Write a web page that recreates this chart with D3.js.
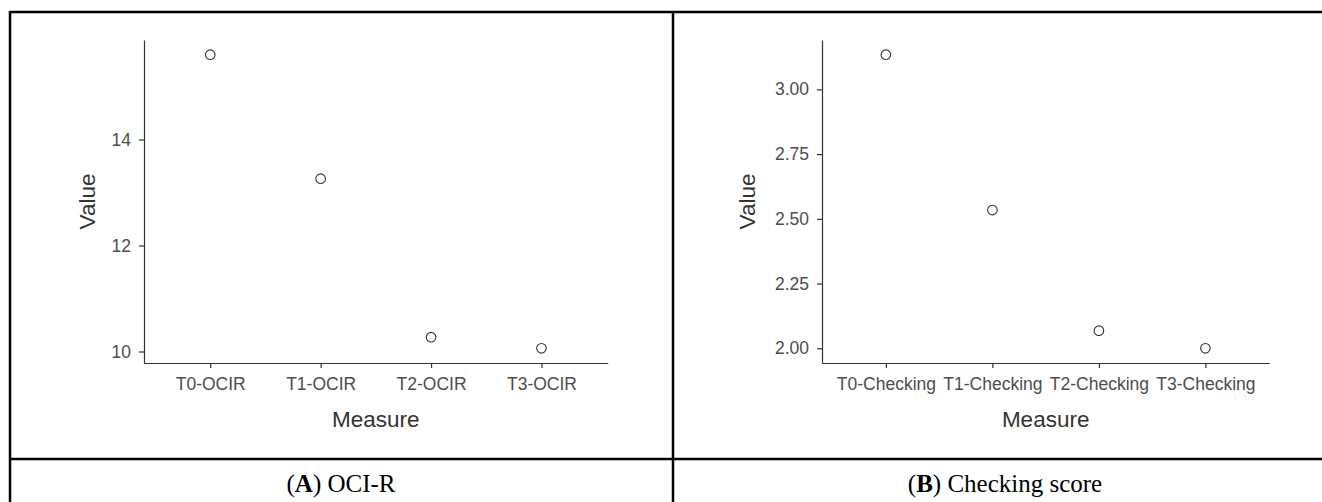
<!DOCTYPE html>
<html>
<head>
<meta charset="utf-8">
<script src="https://cdn.jsdelivr.net/npm/d3@7.9.0/dist/d3.min.js"></script>
<style>
  html, body { margin: 0; padding: 0; background: #fff; }
  svg { display: block; }
  .tick text { font-family: "Liberation Sans", Arial, sans-serif; fill: #4d4d4d; }
  .caption { font-family: "Liberation Serif", "Times New Roman", serif; fill: #000; }
</style>
</head>
<body>
<svg id="chart" width="1322" height="502"></svg>
<script>
// panel A: OCI-R
const categoriesA = ['T0-OCIR', 'T1-OCIR', 'T2-OCIR', 'T3-OCIR'];
const valuesA = [15.60, 13.26, 10.27, 10.06];
const ticksA = [10, 12, 14];

// panel B: checking score
const categoriesB = ['T0-Checking', 'T1-Checking', 'T2-Checking', 'T3-Checking'];
const valuesB = [3.134, 2.534, 2.068, 2.00];
const ticksB = [2.00, 2.25, 2.50, 2.75, 3.00];

const svg = d3.select('#chart');

// table lines round the two figures
const border = svg.append('g').attr('stroke', '#000').attr('stroke-width', 2.5).attr('fill', 'none');
border.append('line').attr('x1', 10).attr('x2', 1322).attr('y1', 12).attr('y2', 12);
border.append('line').attr('x1', 10).attr('x2', 10).attr('y1', 11).attr('y2', 502);
border.append('line').attr('x1', 673).attr('x2', 673).attr('y1', 11).attr('y2', 502);
border.append('line').attr('x1', 10).attr('x2', 1322).attr('y1', 459).attr('y2', 459);

function drawPanel(cats, vals, ticks, fmt, left, right, valueX) {
  const top = 40, bottom = 363;
  const g = svg.append('g');

  let lo = d3.min(vals), hi = d3.max(vals);
  let pad = (hi - lo) * 0.05;

  let x = d3.scalePoint().domain(cats).range([left, right]).padding(0.6);
  let y = d3.scaleLinear().domain([lo - pad, hi + pad]).range([bottom, top]);

  let yAxis = g.append('g')
      .attr('transform', `translate(${left},0)`)
      .call(d3.axisLeft(y).tickValues(ticks).tickFormat(fmt).tickSize(5).tickSizeOuter(0).tickPadding(8));
  let xAxis = g.append('g')
      .attr('transform', `translate(0,${bottom})`)
      .call(d3.axisBottom(x).tickSize(5).tickSizeOuter(0).tickPadding(10));

  [yAxis, xAxis].forEach(a => {
    a.select('.domain').attr('stroke', '#333').attr('stroke-width', 1.2);
    a.selectAll('.tick line').attr('stroke', '#333').attr('stroke-width', 1.2);
    a.selectAll('.tick text').style('font-size', '17.5px');
  });

  g.selectAll('circle.pt')
    .data(vals)
    .join('circle')
      .attr('class', 'pt')
      .attr('cx', (d, i) => x(cats[i]))
      .attr('cy', d => y(d))
      .attr('r', 4.8)
      .attr('fill', 'none')
      .attr('stroke', '#333')
      .attr('stroke-width', 1.1);

  g.append('text')
      .attr('transform', `translate(${valueX},${(top + bottom) / 2}) rotate(-90)`)
      .attr('text-anchor', 'middle')
      .attr('dy', '0.35em')
      .style('font-family', '"Liberation Sans", Arial, sans-serif')
      .style('font-size', '22.5px')
      .attr('fill', '#333')
      .text('Value');

  g.append('text')
      .attr('x', (left + right) / 2)
      .attr('y', 427)
      .attr('text-anchor', 'middle')
      .style('font-family', '"Liberation Sans", Arial, sans-serif')
      .style('font-size', '22.5px')
      .attr('fill', '#333')
      .text('Measure');
}

drawPanel(categoriesA, valuesA, ticksA, d3.format('d'), 144, 607.7, 87);
drawPanel(categoriesB, valuesB, ticksB, d3.format('.2f'), 822, 1269.3, 747);

function caption(cx, letter, rest) {
  let t = svg.append('text')
      .attr('class', 'caption')
      .attr('x', cx)
      .attr('y', 492)
      .attr('text-anchor', 'middle')
      .style('font-size', '25px');
  t.append('tspan').text('(');
  t.append('tspan').style('font-weight', 'bold').text(letter);
  t.append('tspan').text(') ' + rest);
}

caption(341, 'A', 'OCI-R');
caption(1005, 'B', 'Checking score');
</script>
</body>
</html>
